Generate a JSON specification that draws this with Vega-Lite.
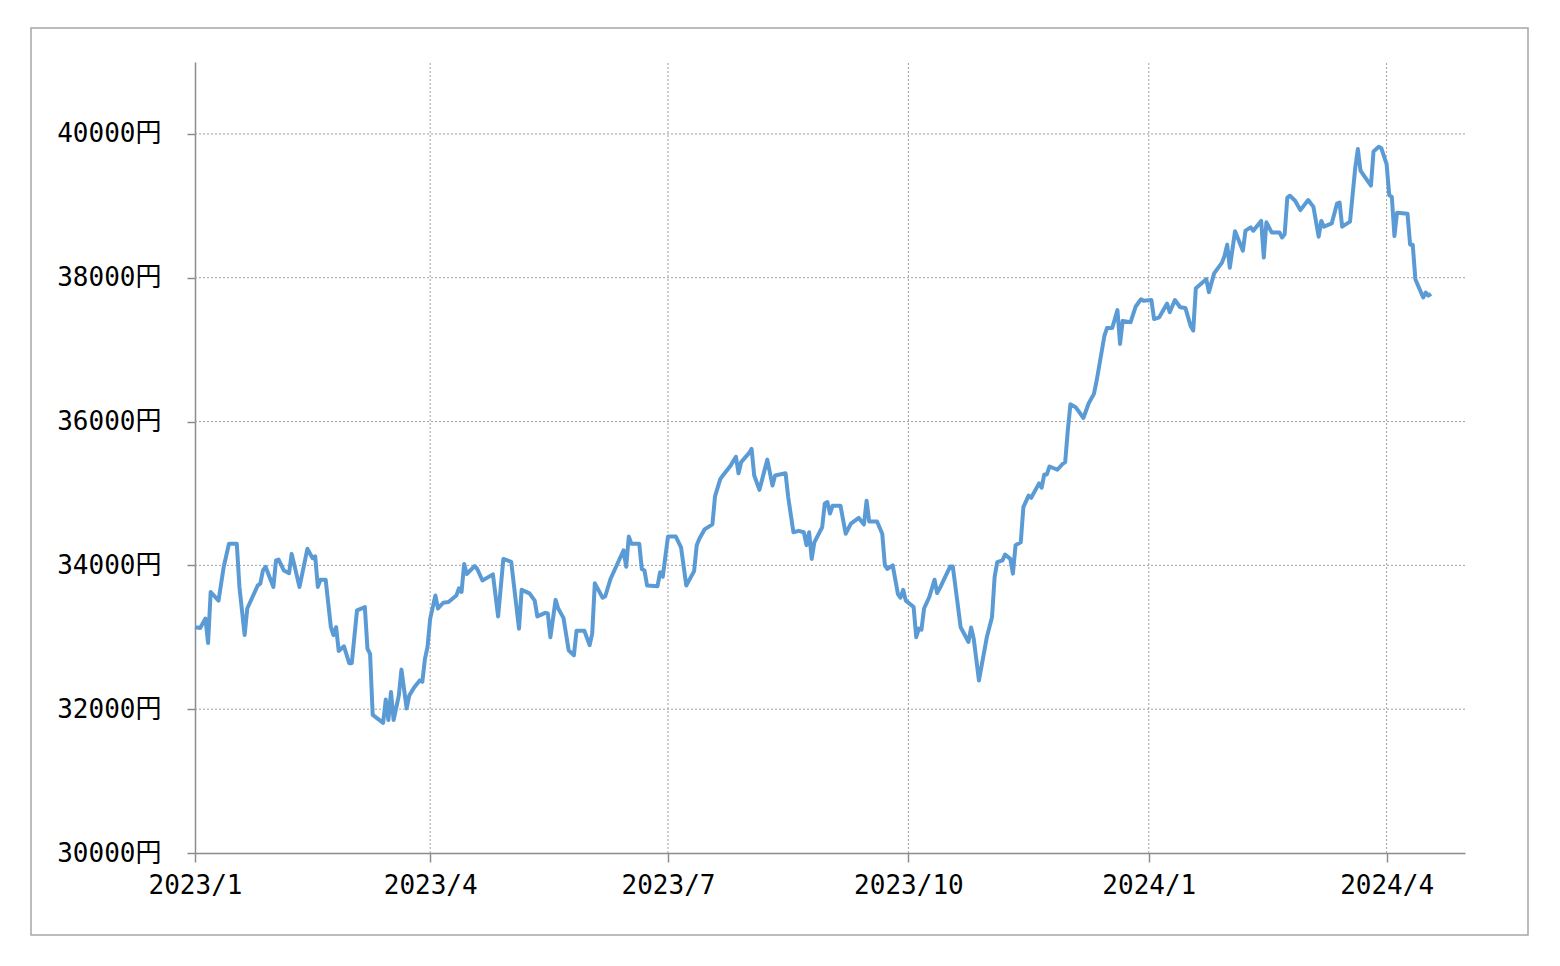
{
  "$schema": "https://vega.github.io/schema/vega-lite/v6.json",
  "width": 1497,
  "height": 907,
  "padding": {"left": 31, "top": 28, "right": 32, "bottom": 31},
  "autosize": {"type": "none"},
  "background": "white",
  "config": {
    "view": {"stroke": "#a6a6a6", "strokeWidth": 1.5},
    "axis": {
      "labelFont": "DejaVu Sans Mono, Noto Sans CJK JP",
      "labelFontSize": 26,
      "labelColor": "#000000",
      "domainColor": "#8c8c8c",
      "domainWidth": 1.5,
      "tickColor": "#8c8c8c",
      "tickWidth": 1.5,
      "grid": false
    }
  },
  "layer": [
    {
      "data": {"values": [{"price": 32000}, {"price": 34000}, {"price": 36000}, {"price": 38000}, {"price": 40000}]},
      "mark": {"type": "rule", "stroke": "#a0a0a0", "strokeDash": [2, 2], "strokeWidth": 1},
      "encoding": {
        "y": {"field": "price", "type": "quantitative", "title": null,
          "scale": {"domain": [30000, 41000], "range": [825, 34], "nice": false, "zero": false},
          "axis": {"orient": "left", "offset": -164, "values": [30000, 32000, 34000, 36000, 38000, 40000], "labelExpr": "format(datum.value, 'd') + '円'", "tickSize": 8, "labelPadding": 26, "labelFlush": false, "labelOverlap": false}},
        "x": {"datum": {"year": 2023, "month": 1, "date": 1, "utc": true}, "type": "temporal", "title": null,
          "scale": {"type": "utc", "domain": [{"year": 2023, "month": 1, "date": 1, "utc": true}, {"year": 2024, "month": 5, "date": 1, "utc": true}], "range": [164, 1434], "nice": false},
          "axis": {"orient": "bottom", "offset": -82, "values": [{"year": 2023, "month": 1, "date": 1, "utc": true}, {"year": 2023, "month": 4, "date": 1, "utc": true}, {"year": 2023, "month": 7, "date": 1, "utc": true}, {"year": 2023, "month": 10, "date": 1, "utc": true}, {"year": 2024, "month": 1, "date": 1, "utc": true}, {"year": 2024, "month": 4, "date": 1, "utc": true}], "labelExpr": "utcFormat(datum.value, '%Y') + '/' + (utcmonth(datum.value) + 1)", "tickSize": 9, "labelPadding": 10, "labelFlush": false, "labelOverlap": false}},
        "x2": {"datum": {"year": 2024, "month": 5, "date": 1, "utc": true}}
      }
    },
    {
      "data": {"values": [{"date": "2023-04-01"}, {"date": "2023-07-01"}, {"date": "2023-10-01"}, {"date": "2024-01-01"}, {"date": "2024-04-01"}]},
      "mark": {"type": "rule", "stroke": "#a0a0a0", "strokeDash": [2, 2], "strokeWidth": 1},
      "encoding": {
        "x": {"field": "date", "type": "temporal", "title": null,
          "scale": {"type": "utc", "domain": [{"year": 2023, "month": 1, "date": 1, "utc": true}, {"year": 2024, "month": 5, "date": 1, "utc": true}], "range": [164, 1434], "nice": false},
          "axis": {"orient": "bottom", "offset": -82, "values": [{"year": 2023, "month": 1, "date": 1, "utc": true}, {"year": 2023, "month": 4, "date": 1, "utc": true}, {"year": 2023, "month": 7, "date": 1, "utc": true}, {"year": 2023, "month": 10, "date": 1, "utc": true}, {"year": 2024, "month": 1, "date": 1, "utc": true}, {"year": 2024, "month": 4, "date": 1, "utc": true}], "labelExpr": "utcFormat(datum.value, '%Y') + '/' + (utcmonth(datum.value) + 1)", "tickSize": 9, "labelPadding": 10, "labelFlush": false, "labelOverlap": false}},
        "y": {"datum": 30000, "type": "quantitative", "title": null,
          "scale": {"domain": [30000, 41000], "range": [825, 34], "nice": false, "zero": false},
          "axis": {"orient": "left", "offset": -164, "values": [30000, 32000, 34000, 36000, 38000, 40000], "labelExpr": "format(datum.value, 'd') + '円'", "tickSize": 8, "labelPadding": 26, "labelFlush": false, "labelOverlap": false}},
        "y2": {"datum": 41000}
      }
    },
    {
      "data": {"values": [
        {"date": "2023-01-01", "price": 33140}, {"date": "2023-01-03", "price": 33130}, {"date": "2023-01-05", "price": 33260}, {"date": "2023-01-06", "price": 32920}, {"date": "2023-01-07", "price": 33630}, {"date": "2023-01-10", "price": 33510}, {"date": "2023-01-12", "price": 33980}, {"date": "2023-01-14", "price": 34300}, {"date": "2023-01-17", "price": 34300}, {"date": "2023-01-18", "price": 33700}, {"date": "2023-01-20", "price": 33030}, {"date": "2023-01-21", "price": 33400}, {"date": "2023-01-25", "price": 33720}, {"date": "2023-01-26", "price": 33745}, {"date": "2023-01-27", "price": 33930}, {"date": "2023-01-28", "price": 33980}, {"date": "2023-01-31", "price": 33700},
        {"date": "2023-02-01", "price": 34070}, {"date": "2023-02-02", "price": 34080}, {"date": "2023-02-04", "price": 33930}, {"date": "2023-02-06", "price": 33890}, {"date": "2023-02-07", "price": 34160}, {"date": "2023-02-10", "price": 33700}, {"date": "2023-02-13", "price": 34230}, {"date": "2023-02-15", "price": 34100}, {"date": "2023-02-16", "price": 34125}, {"date": "2023-02-17", "price": 33700}, {"date": "2023-02-18", "price": 33800}, {"date": "2023-02-20", "price": 33800}, {"date": "2023-02-22", "price": 33140}, {"date": "2023-02-23", "price": 33030}, {"date": "2023-02-24", "price": 33140}, {"date": "2023-02-25", "price": 32810}, {"date": "2023-02-27", "price": 32875},
        {"date": "2023-03-01", "price": 32640}, {"date": "2023-03-02", "price": 32640}, {"date": "2023-03-04", "price": 33375}, {"date": "2023-03-07", "price": 33420}, {"date": "2023-03-08", "price": 32840}, {"date": "2023-03-09", "price": 32770}, {"date": "2023-03-10", "price": 31920}, {"date": "2023-03-14", "price": 31810}, {"date": "2023-03-15", "price": 32135}, {"date": "2023-03-16", "price": 31850}, {"date": "2023-03-17", "price": 32240}, {"date": "2023-03-18", "price": 31850}, {"date": "2023-03-20", "price": 32190}, {"date": "2023-03-21", "price": 32550}, {"date": "2023-03-23", "price": 32010}, {"date": "2023-03-24", "price": 32190}, {"date": "2023-03-26", "price": 32310}, {"date": "2023-03-28", "price": 32400}, {"date": "2023-03-29", "price": 32380}, {"date": "2023-03-30", "price": 32700}, {"date": "2023-03-31", "price": 32870},
        {"date": "2023-04-01", "price": 33260}, {"date": "2023-04-03", "price": 33580}, {"date": "2023-04-04", "price": 33400}, {"date": "2023-04-06", "price": 33480}, {"date": "2023-04-08", "price": 33490}, {"date": "2023-04-11", "price": 33580}, {"date": "2023-04-12", "price": 33680}, {"date": "2023-04-13", "price": 33630}, {"date": "2023-04-14", "price": 34020}, {"date": "2023-04-15", "price": 33880}, {"date": "2023-04-18", "price": 33990}, {"date": "2023-04-19", "price": 33950}, {"date": "2023-04-21", "price": 33790}, {"date": "2023-04-25", "price": 33875}, {"date": "2023-04-27", "price": 33290}, {"date": "2023-04-29", "price": 34090},
        {"date": "2023-05-02", "price": 34050}, {"date": "2023-05-05", "price": 33120}, {"date": "2023-05-06", "price": 33660}, {"date": "2023-05-09", "price": 33610}, {"date": "2023-05-11", "price": 33510}, {"date": "2023-05-12", "price": 33290}, {"date": "2023-05-15", "price": 33340}, {"date": "2023-05-16", "price": 33330}, {"date": "2023-05-17", "price": 33000}, {"date": "2023-05-19", "price": 33520}, {"date": "2023-05-20", "price": 33400}, {"date": "2023-05-22", "price": 33270}, {"date": "2023-05-24", "price": 32820}, {"date": "2023-05-26", "price": 32750}, {"date": "2023-05-27", "price": 33090}, {"date": "2023-05-30", "price": 33090},
        {"date": "2023-06-01", "price": 32890}, {"date": "2023-06-02", "price": 33050}, {"date": "2023-06-03", "price": 33750}, {"date": "2023-06-06", "price": 33550}, {"date": "2023-06-07", "price": 33570}, {"date": "2023-06-09", "price": 33810}, {"date": "2023-06-11", "price": 33970}, {"date": "2023-06-14", "price": 34210}, {"date": "2023-06-15", "price": 33980}, {"date": "2023-06-16", "price": 34400}, {"date": "2023-06-17", "price": 34300}, {"date": "2023-06-20", "price": 34300}, {"date": "2023-06-21", "price": 33950}, {"date": "2023-06-22", "price": 33930}, {"date": "2023-06-23", "price": 33720}, {"date": "2023-06-27", "price": 33710}, {"date": "2023-06-28", "price": 33905}, {"date": "2023-06-29", "price": 33840},
        {"date": "2023-07-01", "price": 34400}, {"date": "2023-07-04", "price": 34400}, {"date": "2023-07-06", "price": 34250}, {"date": "2023-07-08", "price": 33720}, {"date": "2023-07-11", "price": 33920}, {"date": "2023-07-12", "price": 34280}, {"date": "2023-07-13", "price": 34370}, {"date": "2023-07-15", "price": 34500}, {"date": "2023-07-18", "price": 34570}, {"date": "2023-07-19", "price": 34960}, {"date": "2023-07-21", "price": 35200}, {"date": "2023-07-22", "price": 35250}, {"date": "2023-07-25", "price": 35390}, {"date": "2023-07-27", "price": 35510}, {"date": "2023-07-28", "price": 35280}, {"date": "2023-07-29", "price": 35435},
        {"date": "2023-08-01", "price": 35560}, {"date": "2023-08-02", "price": 35620}, {"date": "2023-08-03", "price": 35250}, {"date": "2023-08-05", "price": 35050}, {"date": "2023-08-08", "price": 35470}, {"date": "2023-08-10", "price": 35110}, {"date": "2023-08-11", "price": 35250}, {"date": "2023-08-15", "price": 35280}, {"date": "2023-08-16", "price": 34950}, {"date": "2023-08-18", "price": 34460}, {"date": "2023-08-20", "price": 34480}, {"date": "2023-08-22", "price": 34460}, {"date": "2023-08-23", "price": 34280}, {"date": "2023-08-24", "price": 34460}, {"date": "2023-08-25", "price": 34090}, {"date": "2023-08-26", "price": 34320}, {"date": "2023-08-29", "price": 34530}, {"date": "2023-08-30", "price": 34860}, {"date": "2023-08-31", "price": 34880},
        {"date": "2023-09-01", "price": 34720}, {"date": "2023-09-02", "price": 34830}, {"date": "2023-09-05", "price": 34830}, {"date": "2023-09-07", "price": 34440}, {"date": "2023-09-09", "price": 34580}, {"date": "2023-09-12", "price": 34660}, {"date": "2023-09-14", "price": 34570}, {"date": "2023-09-15", "price": 34900}, {"date": "2023-09-16", "price": 34610}, {"date": "2023-09-19", "price": 34610}, {"date": "2023-09-21", "price": 34440}, {"date": "2023-09-22", "price": 34000}, {"date": "2023-09-23", "price": 33950}, {"date": "2023-09-25", "price": 34000}, {"date": "2023-09-27", "price": 33600}, {"date": "2023-09-28", "price": 33550}, {"date": "2023-09-29", "price": 33660}, {"date": "2023-09-30", "price": 33510},
        {"date": "2023-10-03", "price": 33420}, {"date": "2023-10-04", "price": 33000}, {"date": "2023-10-05", "price": 33120}, {"date": "2023-10-06", "price": 33105}, {"date": "2023-10-07", "price": 33400}, {"date": "2023-10-09", "price": 33560}, {"date": "2023-10-11", "price": 33800}, {"date": "2023-10-12", "price": 33615}, {"date": "2023-10-13", "price": 33680}, {"date": "2023-10-17", "price": 33985}, {"date": "2023-10-18", "price": 33985}, {"date": "2023-10-21", "price": 33140}, {"date": "2023-10-24", "price": 32935}, {"date": "2023-10-25", "price": 33135}, {"date": "2023-10-26", "price": 32980}, {"date": "2023-10-28", "price": 32400}, {"date": "2023-10-31", "price": 33000},
        {"date": "2023-11-02", "price": 33280}, {"date": "2023-11-03", "price": 33840}, {"date": "2023-11-04", "price": 34045}, {"date": "2023-11-06", "price": 34070}, {"date": "2023-11-07", "price": 34150}, {"date": "2023-11-09", "price": 34090}, {"date": "2023-11-10", "price": 33885}, {"date": "2023-11-11", "price": 34280}, {"date": "2023-11-13", "price": 34320}, {"date": "2023-11-14", "price": 34810}, {"date": "2023-11-16", "price": 34970}, {"date": "2023-11-17", "price": 34940}, {"date": "2023-11-20", "price": 35140}, {"date": "2023-11-21", "price": 35080}, {"date": "2023-11-22", "price": 35265}, {"date": "2023-11-23", "price": 35265}, {"date": "2023-11-24", "price": 35375}, {"date": "2023-11-27", "price": 35330}, {"date": "2023-11-29", "price": 35410}, {"date": "2023-11-30", "price": 35435},
        {"date": "2023-12-01", "price": 35875}, {"date": "2023-12-02", "price": 36240}, {"date": "2023-12-04", "price": 36200}, {"date": "2023-12-07", "price": 36050}, {"date": "2023-12-09", "price": 36255}, {"date": "2023-12-11", "price": 36385}, {"date": "2023-12-12", "price": 36560}, {"date": "2023-12-15", "price": 37190}, {"date": "2023-12-16", "price": 37300}, {"date": "2023-12-18", "price": 37300}, {"date": "2023-12-20", "price": 37550}, {"date": "2023-12-21", "price": 37080}, {"date": "2023-12-22", "price": 37400}, {"date": "2023-12-25", "price": 37380}, {"date": "2023-12-27", "price": 37600}, {"date": "2023-12-29", "price": 37700}, {"date": "2023-12-30", "price": 37680},
        {"date": "2024-01-02", "price": 37690}, {"date": "2024-01-03", "price": 37425}, {"date": "2024-01-05", "price": 37450}, {"date": "2024-01-08", "price": 37640}, {"date": "2024-01-09", "price": 37520}, {"date": "2024-01-11", "price": 37690}, {"date": "2024-01-13", "price": 37590}, {"date": "2024-01-15", "price": 37580}, {"date": "2024-01-17", "price": 37330}, {"date": "2024-01-18", "price": 37265}, {"date": "2024-01-19", "price": 37855}, {"date": "2024-01-23", "price": 37980}, {"date": "2024-01-24", "price": 37800}, {"date": "2024-01-26", "price": 38060}, {"date": "2024-01-29", "price": 38210}, {"date": "2024-01-30", "price": 38305}, {"date": "2024-01-31", "price": 38460},
        {"date": "2024-02-01", "price": 38140}, {"date": "2024-02-03", "price": 38645}, {"date": "2024-02-06", "price": 38375}, {"date": "2024-02-07", "price": 38655}, {"date": "2024-02-09", "price": 38700}, {"date": "2024-02-10", "price": 38655}, {"date": "2024-02-13", "price": 38790}, {"date": "2024-02-14", "price": 38280}, {"date": "2024-02-15", "price": 38770}, {"date": "2024-02-17", "price": 38630}, {"date": "2024-02-20", "price": 38630}, {"date": "2024-02-21", "price": 38560}, {"date": "2024-02-22", "price": 38605}, {"date": "2024-02-23", "price": 39115}, {"date": "2024-02-24", "price": 39140}, {"date": "2024-02-26", "price": 39070}, {"date": "2024-02-28", "price": 38940},
        {"date": "2024-03-02", "price": 39080}, {"date": "2024-03-04", "price": 38985}, {"date": "2024-03-06", "price": 38570}, {"date": "2024-03-07", "price": 38790}, {"date": "2024-03-08", "price": 38710}, {"date": "2024-03-11", "price": 38755}, {"date": "2024-03-13", "price": 39030}, {"date": "2024-03-14", "price": 39045}, {"date": "2024-03-15", "price": 38710}, {"date": "2024-03-18", "price": 38780}, {"date": "2024-03-20", "price": 39530}, {"date": "2024-03-21", "price": 39790}, {"date": "2024-03-22", "price": 39490}, {"date": "2024-03-26", "price": 39280}, {"date": "2024-03-27", "price": 39755}, {"date": "2024-03-29", "price": 39820}, {"date": "2024-03-30", "price": 39800},
        {"date": "2024-04-01", "price": 39580}, {"date": "2024-04-02", "price": 39150}, {"date": "2024-04-03", "price": 39125}, {"date": "2024-04-04", "price": 38580}, {"date": "2024-04-05", "price": 38905}, {"date": "2024-04-09", "price": 38890}, {"date": "2024-04-10", "price": 38460}, {"date": "2024-04-11", "price": 38460}, {"date": "2024-04-12", "price": 37980}, {"date": "2024-04-15", "price": 37725}, {"date": "2024-04-16", "price": 37795}, {"date": "2024-04-17", "price": 37750}, {"date": "2024-04-18", "price": 37775}
      ]},
      "mark": {"type": "line", "stroke": "#5b9bd5", "strokeWidth": 4, "strokeJoin": "round"},
      "encoding": {
        "x": {
          "field": "date", "type": "temporal", "title": null,
          "scale": {"type": "utc", "domain": [{"year": 2023, "month": 1, "date": 1, "utc": true}, {"year": 2024, "month": 5, "date": 1, "utc": true}], "range": [164, 1434], "nice": false},
          "axis": {"orient": "bottom", "offset": -82, "values": [{"year": 2023, "month": 1, "date": 1, "utc": true}, {"year": 2023, "month": 4, "date": 1, "utc": true}, {"year": 2023, "month": 7, "date": 1, "utc": true}, {"year": 2023, "month": 10, "date": 1, "utc": true}, {"year": 2024, "month": 1, "date": 1, "utc": true}, {"year": 2024, "month": 4, "date": 1, "utc": true}], "labelExpr": "utcFormat(datum.value, '%Y') + '/' + (utcmonth(datum.value) + 1)", "tickSize": 9, "labelPadding": 10, "labelFlush": false, "labelOverlap": false}
        },
        "y": {
          "field": "price", "type": "quantitative", "title": null,
          "scale": {"domain": [30000, 41000], "range": [825, 34], "nice": false, "zero": false},
          "axis": {"orient": "left", "offset": -164, "values": [30000, 32000, 34000, 36000, 38000, 40000], "labelExpr": "format(datum.value, 'd') + '円'", "tickSize": 8, "labelPadding": 26, "labelFlush": false, "labelOverlap": false}
        }
      }
    }
  ]
}
